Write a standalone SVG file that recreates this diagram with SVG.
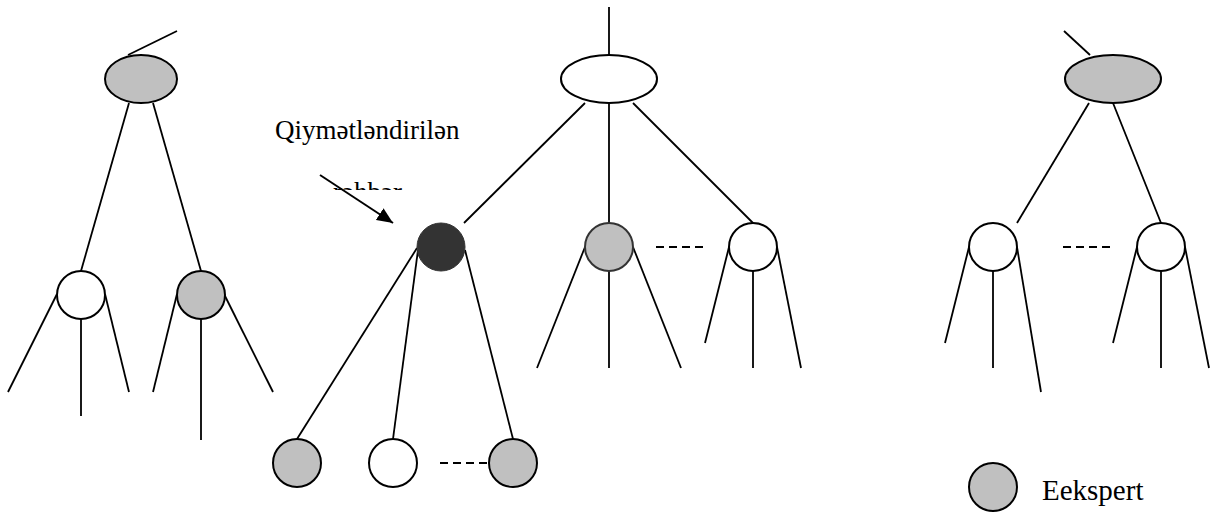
<svg xmlns="http://www.w3.org/2000/svg" width="1218" height="515" viewBox="0 0 1218 515">
<style>
.e{stroke:#000;stroke-width:2;fill:#c0c0c0}
.w{stroke:#000;stroke-width:2;fill:#fff}
.d{stroke:#333;stroke-width:1;fill:#333}
.g2{stroke:#333;stroke-width:2;fill:#c0c0c0}
.c line{stroke:#000;stroke-width:1.8}
.dash{stroke:#000;stroke-width:1.8;stroke-dasharray:8,5}
text{font-family:"Liberation Serif","Times New Roman",serif;fill:#000}
</style>
<defs>
<marker id="ah" markerWidth="16" markerHeight="14" refX="16" refY="7" orient="auto" markerUnits="userSpaceOnUse" viewBox="0 0 16 14">
<path d="M0,0 L16,7 L0,14 z" fill="#000"/>
</marker>
<clipPath id="clipR"><rect x="300" y="170" width="120" height="20"/></clipPath>
</defs>
<rect width="1218" height="515" fill="#fff"/>
<g class="c" id="connectors">
<line x1="128" y1="55" x2="177" y2="31"/>
<line x1="129" y1="103" x2="81" y2="271"/>
<line x1="153" y1="103" x2="201" y2="271"/>
<line x1="57" y1="294" x2="8" y2="392"/>
<line x1="81" y1="319" x2="81" y2="416"/>
<line x1="105" y1="294" x2="129" y2="392"/>
<line x1="177" y1="294" x2="153" y2="392"/>
<line x1="201" y1="319" x2="201" y2="440"/>
<line x1="224" y1="294" x2="273" y2="392"/>
<line x1="609" y1="7" x2="609" y2="55"/>
<line x1="585" y1="103" x2="464" y2="223"/>
<line x1="609" y1="103" x2="609" y2="223"/>
<line x1="633" y1="103" x2="753" y2="223"/>
<line x1="585" y1="247" x2="537" y2="368"/>
<line x1="609" y1="271" x2="609" y2="368"/>
<line x1="633" y1="247" x2="681" y2="368"/>
<line x1="729" y1="247" x2="705" y2="343"/>
<line x1="753" y1="271" x2="753" y2="368"/>
<line x1="777" y1="247" x2="801" y2="368"/>
<line x1="417" y1="248" x2="297" y2="439"/>
<line x1="418" y1="250" x2="393" y2="439"/>
<line x1="465" y1="250" x2="513" y2="439"/>
<line x1="1064" y1="31" x2="1090" y2="55"/>
<line x1="1089" y1="103" x2="1017" y2="223"/>
<line x1="1113" y1="103" x2="1161" y2="223"/>
<line x1="969" y1="247" x2="945" y2="343"/>
<line x1="993" y1="271" x2="993" y2="368"/>
<line x1="1017" y1="247" x2="1041" y2="392"/>
<line x1="1137" y1="247" x2="1113" y2="343"/>
<line x1="1161" y1="271" x2="1161" y2="368"/>
<line x1="1185" y1="247" x2="1209" y2="368"/>
<line x1="320" y1="175" x2="393" y2="223" marker-end="url(#ah)" style="stroke-width:2"/>
<line class="dash" x1="656" y1="247" x2="706" y2="247"/>
<line class="dash" x1="440" y1="463" x2="489" y2="463"/>
<line class="dash" x1="1063" y1="247" x2="1113" y2="247"/>
</g>
<g id="n-left-root"><ellipse class="e" cx="141" cy="79" rx="36" ry="24"/></g>
<g id="n-left-a"><circle class="w" cx="81" cy="295" r="24"/></g>
<g id="n-left-b"><circle class="e" cx="201" cy="295" r="24"/></g>
<g id="n-mid-root"><ellipse class="w" cx="609" cy="79" rx="48" ry="24"/></g>
<g id="n-leader"><circle class="d" cx="441" cy="247" r="24"/></g>
<g id="n-mid-b"><circle class="g2" cx="609" cy="247" r="24"/></g>
<g id="n-mid-c"><circle class="w" cx="753" cy="247" r="24"/></g>
<g id="n-sub-a"><circle class="e" cx="297" cy="463" r="24"/></g>
<g id="n-sub-b"><circle class="w" cx="393" cy="463" r="24"/></g>
<g id="n-sub-c"><circle class="e" cx="513" cy="463" r="24"/></g>
<g id="n-right-root"><ellipse class="e" cx="1113" cy="79" rx="48" ry="24"/></g>
<g id="n-right-a"><circle class="w" cx="993" cy="247" r="24"/></g>
<g id="n-right-b"><circle class="w" cx="1161" cy="247" r="24"/></g>
<g id="label">
<text x="275" y="139" font-size="27">Qiymətləndirilən</text>
<text x="333" y="201" font-size="27" clip-path="url(#clipR)">rəhbər</text>
</g>
<g id="legend">
<circle class="e" cx="993" cy="487" r="24"/>
<text x="1042" y="500" font-size="29">Eekspert</text>
</g>
</svg>
